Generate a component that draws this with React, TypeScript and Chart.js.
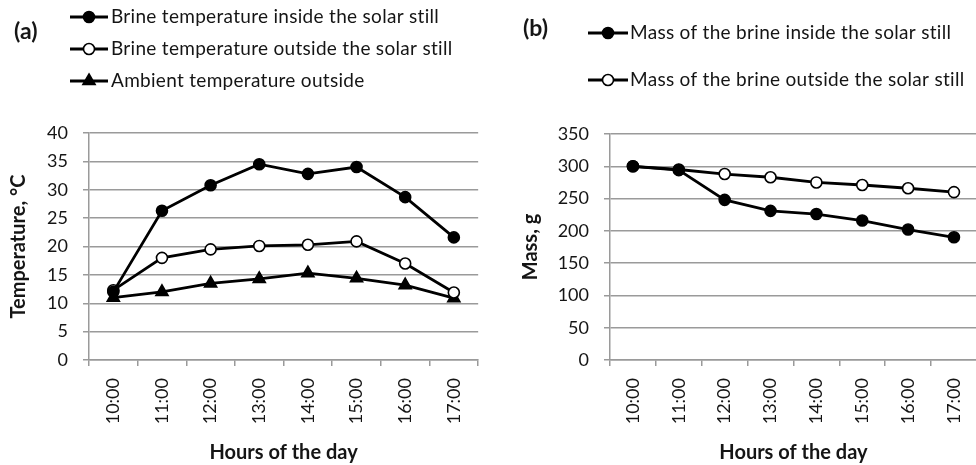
import React, { useEffect, useRef } from 'react';
import { Chart, registerables } from 'chart.js';

Chart.register(...registerables);

// ---------- data ----------
const hours = ['10:00', '11:00', '12:00', '13:00', '14:00', '15:00', '16:00', '17:00'];

const tempInside = [12.0, 26.3, 30.8, 34.5, 32.8, 34.0, 28.7, 21.6];
const tempOutside = [12.3, 18.0, 19.5, 20.1, 20.3, 20.9, 17.0, 11.9];
const tempAmbient = [11.0, 12.0, 13.5, 14.3, 15.3, 14.4, 13.2, 10.9];

const massInside = [300, 294, 248, 231, 226, 216, 202, 190];
const massOutside = [300, 295, 288, 283, 275, 271, 266, 260];

const tempLabels = [
  'Brine temperature inside the solar still',
  'Brine temperature outside the solar still',
  'Ambient temperature outside',
];
const massLabels = [
  'Mass of the brine inside the solar still',
  'Mass of the brine outside the solar still',
];

const tempAxis = { min: 0, max: 40, step: 5, title: 'Temperature, °C' };
const massAxis = { min: 0, max: 350, step: 50, title: 'Mass, g' };
const xTitle = 'Hours of the day';

// ---------- styles ----------
const FONT = 'Lato';
const GRID = '#9a9a9a';
const INK = '#151515';

function drawMarker(ctx: CanvasRenderingContext2D, style: string, x: number, y: number, r: number, fill: string, stroke: string, bw: number) {
  ctx.beginPath();
  if (style === 'triangle') {
    let a = 0;
    ctx.moveTo(x + Math.sin(a) * r, y - Math.cos(a) * r);
    a += (2 * Math.PI) / 3;
    ctx.lineTo(x + Math.sin(a) * r, y - Math.cos(a) * r);
    a += (2 * Math.PI) / 3;
    ctx.lineTo(x + Math.sin(a) * r, y - Math.cos(a) * r);
    ctx.closePath();
  } else {
    ctx.arc(x, y, r, 0, Math.PI * 2);
  }
  ctx.fillStyle = fill;
  ctx.fill();
  ctx.lineWidth = bw;
  ctx.strokeStyle = stroke;
  ctx.stroke();
}

const panelLegend = {
  id: 'panelLegend',
  afterDraw(chart: any, _args: any, opts: any) {
    const ctx: any = chart.ctx;
    ctx.save();
    ctx.textBaseline = 'middle';
    ctx.textAlign = 'left';
    ctx.fillStyle = INK;
    ctx.font = `bold ${opts.tagSize}px ${FONT}`;
    ctx.fillText(opts.tag, opts.tagX, opts.tagY);
    ctx.font = `${opts.fontSize}px ${FONT}`;
    ctx.letterSpacing = opts.spacing;
    chart.data.datasets.forEach((ds: any, i: number) => {
      const y = opts.rows[i];
      ctx.strokeStyle = ds.borderColor;
      ctx.lineWidth = ds.borderWidth;
      ctx.beginPath();
      ctx.moveTo(opts.x1, y);
      ctx.lineTo(opts.x2, y);
      ctx.stroke();
      drawMarker(ctx, ds.pointStyle, (opts.x1 + opts.x2) / 2, y, ds.pointRadius, ds.pointBackgroundColor, ds.pointBorderColor, ds.pointBorderWidth);
      ctx.fillStyle = INK;
      ctx.fillText(ds.label, opts.textX, y);
    });
    ctx.restore();
  },
};

function series(label: string, data: number[], style: string, fill: string, radius: number) {
  return {
    label,
    data,
    borderColor: '#000',
    borderWidth: 2.8,
    pointStyle: style,
    pointRadius: radius,
    pointBackgroundColor: fill,
    pointBorderColor: '#000',
    pointBorderWidth: 1.6,
    tension: 0,
  };
}

function makeOptions(axis: any, yWidth: number, pad: any, yTitlePad: number, legend: any) {
  return {
    responsive: false,
    animation: false,
    layout: { padding: pad },
    plugins: {
      legend: { display: false },
      tooltip: { enabled: false },
      panelLegend: legend,
    },
    scales: {
      x: {
        type: 'category',
        offset: true,
        grid: { offset: true, drawOnChartArea: false, drawTicks: true, tickLength: 6, color: GRID, lineWidth: 1.5 },
        border: { color: GRID, width: 1.5 },
        ticks: { minRotation: 90, maxRotation: 90, autoSkip: false, padding: 12, color: INK, font: { family: FONT, size: 18 } },
        title: { display: true, text: xTitle, color: INK, font: { family: FONT, size: 20, weight: 'bold' }, padding: { top: 0, bottom: 0 } },
        afterFit: (s: any) => { s.height = 105; },
      },
      y: {
        min: axis.min,
        max: axis.max,
        grid: { color: GRID, lineWidth: 1.5, tickLength: 6 },
        border: { color: GRID, width: 1.5 },
        ticks: { stepSize: axis.step, padding: 15, color: INK, font: { family: FONT, size: 18 } },
        title: { display: true, text: axis.title, color: INK, font: { family: FONT, size: 20, weight: 'bold' }, padding: { top: yTitlePad, bottom: 0 } },
        afterFit: (s: any) => { s.width = yWidth; },
      },
    },
  };
}

export default function App() {
  const refA = useRef<HTMLCanvasElement>(null);
  const refB = useRef<HTMLCanvasElement>(null);

  useEffect(() => {
    const a = new Chart(refA.current as HTMLCanvasElement, {
      type: 'line',
      data: {
        labels: hours,
        datasets: [
          series(tempLabels[0], tempInside, 'circle', '#000', 5.5),
          series(tempLabels[1], tempOutside, 'circle', '#fff', 5.5),
          series(tempLabels[2], tempAmbient, 'triangle', '#000', 7),
        ],
      },
      options: makeOptions(tempAxis, 89, { top: 133, right: 9, left: 0, bottom: 0 }, 7, {
        tag: '(a)', tagSize: 23, tagX: 14, tagY: 32, fontSize: 19, spacing: '0.3px', x1: 70, x2: 108, textX: 111, rows: [17, 49, 81],
      }) as any,
      plugins: [panelLegend as any],
    });
    const b = new Chart(refB.current as HTMLCanvasElement, {
      type: 'line',
      data: {
        labels: hours,
        datasets: [
          series(massLabels[0], massInside, 'circle', '#000', 5.5),
          series(massLabels[1], massOutside, 'circle', '#fff', 5.5),
        ],
      },
      options: makeOptions(massAxis, 122, { top: 134, right: 2, left: 0, bottom: 0 }, 31, {
        tag: '(b)', tagSize: 23, tagX: 35, tagY: 29, fontSize: 19, spacing: '0.3px', x1: 100, x2: 140, textX: 142, rows: [33, 80],
      }) as any,
      plugins: [panelLegend as any],
    });
    return () => {
      a.destroy();
      b.destroy();
    };
  }, []);

  return (
    <div style={{ position: 'fixed', left: 0, top: 0, width: 976, height: 465, overflow: 'hidden', background: '#fff' }}>
      <canvas ref={refA} width={488} height={465} style={{ position: 'absolute', left: 0, top: 0, width: 488, height: 465 }} />
      <canvas ref={refB} width={500} height={465} style={{ position: 'absolute', left: 488, top: 0, width: 500, height: 465 }} />
    </div>
  );
}
